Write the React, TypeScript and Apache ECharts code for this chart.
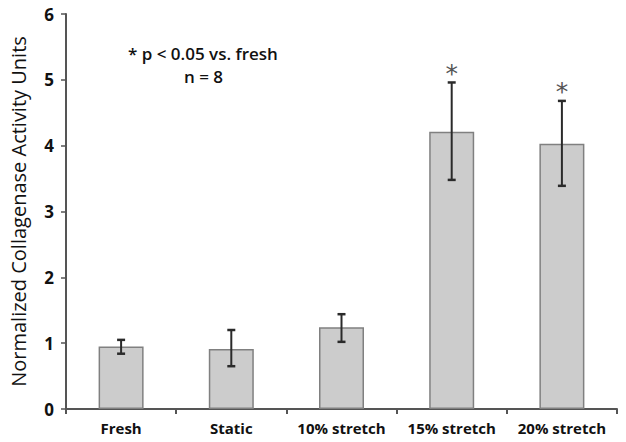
import React, { useEffect, useRef } from "react";
import * as echarts from "echarts";

const categories = ["Fresh", "Static", "10% stretch", "15% stretch", "20% stretch"];
const means = [0.95, 0.91, 1.24, 4.21, 4.03];
const errLow = [0.84, 0.65, 1.02, 3.48, 3.39];
const errHigh = [1.05, 1.2, 1.44, 4.96, 4.68];
const significant = [false, false, false, true, true];
const yTicks = [0, 1, 2, 3, 4, 5, 6];

const FONT = "'Open Sans', Lato, sans-serif";

export default function App() {
  const ref = useRef<HTMLDivElement>(null);
  useEffect(() => {
    const chart = echarts.init(ref.current!, null, { renderer: "svg" });
    const errData = categories.map((_, i) => [i, errLow[i], errHigh[i], significant[i] ? 1 : 0]);
    chart.setOption({
      animation: false,
      grid: { left: 62, right: 9, top: 14, bottom: 33 },
      xAxis: {
        type: "category",
        data: categories,
        axisLine: { lineStyle: { color: "#555", width: 2 } },
        axisTick: { show: true, interval: 0, length: 5, lineStyle: { color: "#555", width: 2 } },
        axisLabel: { interval: 0, color: "#111", fontFamily: FONT, fontWeight: "bold", fontSize: 15, margin: 11 },
      },
      yAxis: {
        type: "value",
        min: yTicks[0],
        max: yTicks[yTicks.length - 1],
        interval: 1,
        splitLine: { show: false },
        axisLine: { show: true, lineStyle: { color: "#555", width: 2 } },
        axisTick: { show: true, length: 5, lineStyle: { color: "#555", width: 1.5 } },
        axisLabel: { color: "#111", fontFamily: FONT, fontWeight: "bold", fontSize: 17, margin: 12 },
        name: "Normalized Collagenase Activity Units",
        nameLocation: "middle",
        nameGap: 38,
        nameTextStyle: { color: "#111", fontFamily: FONT, fontSize: 20 },
      },
      graphic: [
        {
          type: "text",
          left: 128,
          top: 45,
          style: {
            text: "* p < 0.05 vs. fresh",
            font: `600 17px ${FONT}`,
            fill: "#111",
          },
        },
        {
          type: "text",
          left: 184,
          top: 68,
          style: {
            text: "n = 8",
            font: `600 17px ${FONT}`,
            fill: "#111",
          },
        },
      ],
      series: [
        {
          type: "bar",
          data: means,
          barWidth: 45,
          itemStyle: { color: "#cccccc", borderColor: "#808080", borderWidth: 1.5 },
        },
        {
          type: "custom",
          data: errData,
          z: 10,
          renderItem: (params: any, api: any) => {
            const x = api.coord([api.value(0), api.value(1)])[0];
            const yl = api.coord([api.value(0), api.value(1)])[1];
            const yh = api.coord([api.value(0), api.value(2)])[1];
            const cap = 4;
            const style = { stroke: "#2a2a2a", lineWidth: 2 };
            const children: any[] = [
              { type: "line", shape: { x1: x, y1: yl, x2: x, y2: yh }, style },
              { type: "line", shape: { x1: x - cap, y1: yl, x2: x + cap, y2: yl }, style: { stroke: "#2a2a2a", lineWidth: 2.5 } },
              { type: "line", shape: { x1: x - cap, y1: yh, x2: x + cap, y2: yh }, style: { stroke: "#2a2a2a", lineWidth: 2.5 } },
            ];
            if (api.value(3) === 1) {
              children.push({
                type: "text",
                x: x,
                y: yh - 9,
                style: {
                  text: "*",
                  font: "25px 'DejaVu Sans', sans-serif",
                  fill: "#555",
                  align: "center",
                  verticalAlign: "middle",
                },
              });
            }
            return { type: "group", children };
          },
        },
      ],
    });
    return () => chart.dispose();
  }, []);
  return (
    <div
      ref={ref}
      style={{ position: "absolute", left: 0, top: 0, width: 626, height: 442 }}
    />
  );
}
